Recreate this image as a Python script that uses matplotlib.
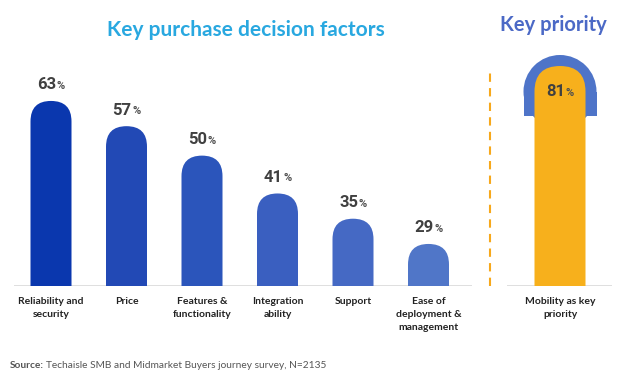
import numpy as np
import matplotlib.pyplot as plt
from matplotlib.patches import FancyBboxPatch, Rectangle, Ellipse
from matplotlib.transforms import offset_copy

# data
factors = ["Reliability and\nsecurity", "Price", "Features &\nfunctionality",
           "Integration\nability", "Support", "Ease of\ndeployment &\nmanagement"]
factor_pct = [63, 57, 50, 41, 35, 29]
bar_colors = ["#0a37ae", "#2249b5", "#2b55bb", "#3a5fc0", "#4569c4", "#5076c8"]

priority = ["Mobility as key\npriority"]
priority_pct = [81]

W, H = 624, 381
fig = plt.figure(figsize=(W / 100, H / 100), dpi=100)
renderer = fig.canvas.get_renderer()

def px_axes(l, t, r, b):
    # pixel box (from top-left) -> figure fraction
    return fig.add_axes([l / W, 1 - b / H, (r - l) / W, (b - t) / H])

def pill(ax, x, top, w, color, z=2):
    # rounded-top bar; bottom corners go below the axis and get clipped
    y0, y1 = ax.get_ylim()
    ppu_y = ax.bbox.height / (y1 - y0)
    x0, x1 = ax.get_xlim()
    ppu_x = ax.bbox.width / (x1 - x0)
    bottom = y0 - (y1 - y0)
    p = FancyBboxPatch((x - w / 2, bottom), w, top - bottom,
                       boxstyle=f"round,pad=0,rounding_size={w / 2}",
                       mutation_aspect=ppu_x / ppu_y, color=color, lw=0, zorder=z)
    ax.add_patch(p)

def pct_label(ax, x, y, val, dy_px, size=12, psize=8):
    # number + small % sign, centred together over x
    tn = ax.text(x, y, f"{val}", ha="left", va="center", fontsize=size,
                 fontweight="bold", color="#404040", family="Roboto", zorder=5)
    tp = ax.text(x, y, "%", ha="left", va="center", fontsize=psize, fontweight="bold",
                 color="#505050", family="Roboto", zorder=5)
    wn = tn.get_window_extent(renderer).width
    wp = tp.get_window_extent(renderer).width
    gap = 0.5
    start = -(wn + wp + gap) / 2
    tn.set_transform(offset_copy(ax.transData, fig=fig, x=start * 0.72, y=dy_px * 0.72, units="points"))
    tp.set_transform(offset_copy(ax.transData, fig=fig, x=(start + wn + gap) * 0.72,
                                 y=(dy_px - 1) * 0.72, units="points"))

# left panel
ax = px_axes(14, 50, 472, 286)
x = np.arange(len(factors))
step = 75.5
ax.set_xlim(-37 / step, -37 / step + 458 / step)
ax.set_ylim(19, 19 + 236 / 4.206)
bw = 41 / step
for xi, v, c in zip(x, factor_pct, bar_colors):
    pill(ax, xi, v, bw, c)
    pct_label(ax, xi, v, v, 16)
ax.axhline(19, color="#d9d9d9", lw=1.2, zorder=1)
ax.set_xticks(x)
ax.set_xticklabels(factors, fontsize=7.5, fontweight="bold", family="Lato",
                   color="#222222", linespacing=1.55, va="top")
ax.tick_params(axis="x", length=0, pad=8)
ax.set_yticks([])
for s in ax.spines.values():
    s.set_visible(False)
ax.patch.set_alpha(0)

# right panel
ax2 = px_axes(507, 40, 612, 286)
ax2.set_xlim(-53, 52)
ax2.set_ylim(0, 246 / 2.716)
v = priority_pct[0]
ppu2 = ax2.bbox.height / ax2.get_ylim()[1]
r_in = 25.5
dome_c = v - r_in / ppu2
# blue arch behind the yellow bar
ax2.add_patch(Rectangle((-36.5, dome_c - 24.5 / ppu2), 73, 24.5 / ppu2,
                        color="#4e74c8", lw=0, zorder=1))
ax2.add_patch(Ellipse((0, dome_c), 73, 73 / ppu2, color="#4e74c8", lw=0, zorder=1))
pill(ax2, 0, v, 51, "#f7b01c", z=2)
pct_label(ax2, 0, dome_c, v, 0)
ax2.axhline(0, color="#d9d9d9", lw=1.2, zorder=1)
ax2.set_xticks([0])
ax2.set_xticklabels(priority, fontsize=7.5, fontweight="bold", family="Lato",
                    color="#222222", linespacing=1.55, va="top")
ax2.tick_params(axis="x", length=0, pad=8)
ax2.set_yticks([])
for s in ax2.spines.values():
    s.set_visible(False)
ax2.patch.set_alpha(0)

# dashed divider
fig.add_artist(plt.Line2D([490 / W, 490 / W], [1 - 286 / H, 1 - 73 / H],
                          color="#f7a81b", lw=1.5, ls=(0, (4, 3))))

# titles
fig.text(246 / W, 1 - 30 / H, "Key purchase decision factors", ha="center", va="center",
         fontsize=15, fontweight="bold", family="Lato", color="#29a8e0")
fig.text(553 / W, 1 - 25 / H, "Key priority", ha="center", va="center",
         fontsize=14.5, fontweight="bold", family="Lato", color="#4b69c6")

# source
src = fig.text(10 / W, 1 - 366 / H, "Source:", ha="left", va="center", fontsize=7.3,
               fontweight="bold", family="Lato", color="#555555")
bb = src.get_window_extent(renderer)
fig.text(bb.x1 / W + 2 / W, 1 - 366 / H, "Techaisle SMB and Midmarket Buyers journey survey, N=2135",
         ha="left", va="center", fontsize=7.3, family="Lato", color="#555555")

fig.savefig("out.png", dpi=100)
